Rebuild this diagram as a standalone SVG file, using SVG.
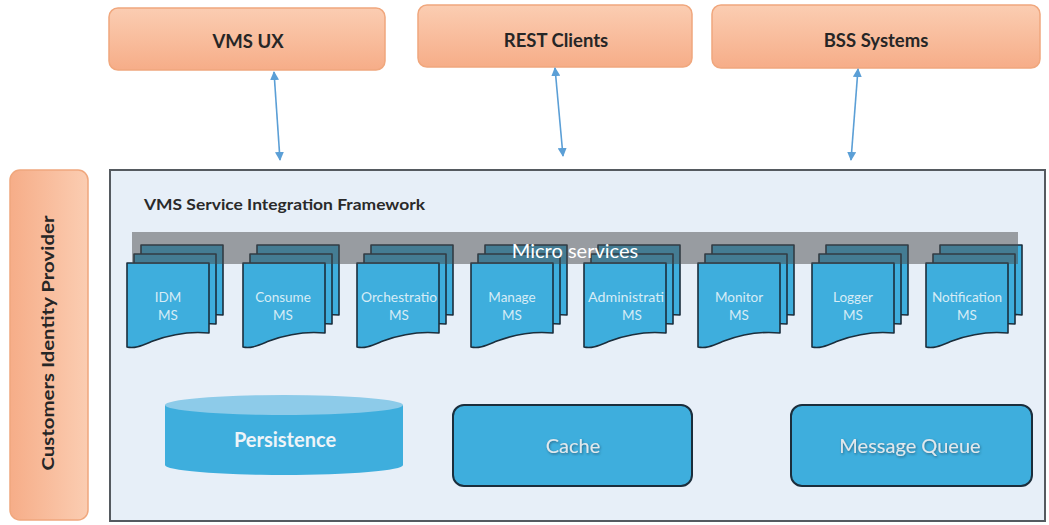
<svg xmlns="http://www.w3.org/2000/svg" width="1049" height="525" viewBox="0 0 1049 525">
  <defs>
    <linearGradient id="orangeGrad" x1="0" y1="0" x2="0" y2="1">
      <stop offset="0" stop-color="#fbcdb2"/>
      <stop offset="1" stop-color="#f6ad88"/>
    </linearGradient>
    <linearGradient id="orangeGradH" x1="0" y1="0" x2="1" y2="0">
      <stop offset="0" stop-color="#f6ad88"/>
      <stop offset="1" stop-color="#fbcdb2"/>
    </linearGradient>
    <filter id="softShadow" x="-10%" y="-30%" width="120%" height="160%">
      <feDropShadow dx="0.8" dy="1.2" stdDeviation="0.8" flood-color="#1b2e3c" flood-opacity="0.55"/>
    </filter>
    <!-- document sheet, origin at top-left -->
    <path id="sheet" d="M0,0 H82 V70 C62,68 42,72 26,78 C16,82 8,86 0,84 Z"/>
    <g id="docStack">
      <use href="#sheet" x="14" y="-18"/>
      <use href="#sheet" x="7" y="-9"/>
      <use href="#sheet"/>
    </g>
    <marker id="arrow" viewBox="0 0 10 10" refX="9" refY="5" markerWidth="9" markerHeight="9" markerUnits="userSpaceOnUse" orient="auto-start-reverse">
      <path d="M0,0 L10,5 L0,10 Z" fill="#5b9fd6"/>
    </marker>
  </defs>
  <style>
    .client { fill: url(#orangeGrad); stroke: #f0a77d; stroke-width: 1.5; }
    .clientText { font-family: Lato, "Open Sans", sans-serif; font-weight: 700; font-size: 18.5px; fill: #262626; text-anchor: middle; }
    .frame { fill: #e7eff8; stroke: #555a60; stroke-width: 2; }
    .title { font-family: Lato, "Open Sans", sans-serif; font-weight: 700; font-size: 15px; fill: #2a2a2a; }
    .doc use { fill: #3eaedd; stroke: #1b2e3c; stroke-width: 1.6; stroke-linejoin: round; }
    .docText { font-family: Lato, "Open Sans", sans-serif; font-size: 13.5px; fill: #d6ecf6; text-anchor: middle; }
    .band { fill: #4a4a4a; opacity: 0.5; }
    .bandText { font-family: Lato, "Open Sans", sans-serif; font-size: 20px; fill: #ffffff; text-anchor: middle; }
    .store { fill: #3eaedd; stroke: #1b2e3c; stroke-width: 2; }
    .storeText { font-family: Lato, "Open Sans", sans-serif; font-size: 20px; fill: #e2e8ec; text-anchor: middle; }
    .link { stroke: #5b9fd6; stroke-width: 1.6; fill: none; marker-start: url(#arrow); marker-end: url(#arrow); }
  </style>

  <rect width="1049" height="525" fill="#ffffff"/>

  <!-- client systems -->
  <g id="vms-ux">
    <rect class="client" x="109" y="8" width="276" height="62" rx="9"/>
    <text class="clientText" x="248" y="48">VMS UX</text>
  </g>
  <g id="rest-clients">
    <rect class="client" x="418" y="5" width="274" height="62" rx="9"/>
    <text class="clientText" x="556" y="47">REST Clients</text>
  </g>
  <g id="bss-systems">
    <rect class="client" x="712" y="5" width="328" height="63" rx="9"/>
    <text class="clientText" x="876" y="47">BSS Systems</text>
  </g>

  <!-- identity provider -->
  <g id="identity-provider">
    <rect x="10" y="170" width="78" height="350" rx="10" fill="url(#orangeGradH)" stroke="#f0a77d" stroke-width="1.5"/>
    <text class="clientText" transform="translate(54 343) rotate(-90)" style="font-size:17px" textLength="255" lengthAdjust="spacingAndGlyphs">Customers Identity Provider</text>
  </g>

  <!-- integration framework -->
  <g id="framework">
    <rect class="frame" x="110" y="170" width="935" height="351"/>
    <text class="title" x="144" y="210" textLength="281" lengthAdjust="spacingAndGlyphs">VMS Service Integration Framework</text>
  </g>

  <!-- micro services -->
  <g id="ms-idm" class="doc">
    <use href="#docStack" x="127" y="263"/>
    <text class="docText" x="168" y="302">IDM</text>
    <text class="docText" x="168" y="320">MS</text>
  </g>
  <g id="ms-consume" class="doc">
    <use href="#docStack" x="243" y="263"/>
    <text class="docText" x="283" y="302">Consume</text>
    <text class="docText" x="283" y="320">MS</text>
  </g>
  <g id="ms-orchestration" class="doc">
    <use href="#docStack" x="357" y="263"/>
    <text class="docText" x="399" y="302" textLength="76" lengthAdjust="spacingAndGlyphs">Orchestratio</text>
    <text class="docText" x="399" y="320">MS</text>
  </g>
  <g id="ms-manage" class="doc">
    <use href="#docStack" x="471" y="263"/>
    <text class="docText" x="512" y="302">Manage</text>
    <text class="docText" x="512" y="320">MS</text>
  </g>
  <g id="ms-administration" class="doc">
    <use href="#docStack" x="584" y="263"/>
    <text class="docText" x="626" y="302" textLength="76" lengthAdjust="spacingAndGlyphs">Administrati</text>
    <text class="docText" x="632" y="320">MS</text>
  </g>
  <g id="ms-monitor" class="doc">
    <use href="#docStack" x="698" y="263"/>
    <text class="docText" x="739" y="302">Monitor</text>
    <text class="docText" x="739" y="320">MS</text>
  </g>
  <g id="ms-logger" class="doc">
    <use href="#docStack" x="812" y="263"/>
    <text class="docText" x="853" y="302">Logger</text>
    <text class="docText" x="853" y="320">MS</text>
  </g>
  <g id="ms-notification" class="doc">
    <use href="#docStack" x="926" y="263"/>
    <text class="docText" x="967" y="302">Notification</text>
    <text class="docText" x="967" y="320">MS</text>
  </g>

  <!-- translucent band over the service stacks -->
  <g id="micro-services-band">
    <rect class="band" x="132" y="232" width="886" height="32"/>
    <text class="bandText" x="575" y="258">Micro services</text>
  </g>

  <!-- data and messaging -->
  <g id="persistence">
    <path d="M165,405 V465 A119,10 0 0 0 403,465 V405 Z" fill="#3eaedd"/>
    <ellipse cx="284" cy="405" rx="119" ry="10" fill="#8dcbe9"/>
    <text class="storeText" x="285" y="447" style="font-weight:700;fill:#eef4f8">Persistence</text>
  </g>
  <g id="cache">
    <rect class="store" x="453" y="405" width="239" height="81" rx="11"/>
    <text class="storeText" x="573" y="453" filter="url(#softShadow)">Cache</text>
  </g>
  <g id="message-queue">
    <rect class="store" x="791" y="405" width="241" height="81" rx="11"/>
    <text class="storeText" x="910" y="453" filter="url(#softShadow)">Message Queue</text>
  </g>

  <!-- connectors -->
  <g id="connectors">
    <line class="link" x1="274" y1="72" x2="280" y2="160"/>
    <line class="link" x1="555" y1="68" x2="563" y2="156"/>
    <line class="link" x1="858" y1="69" x2="851" y2="160"/>
  </g>
</svg>
